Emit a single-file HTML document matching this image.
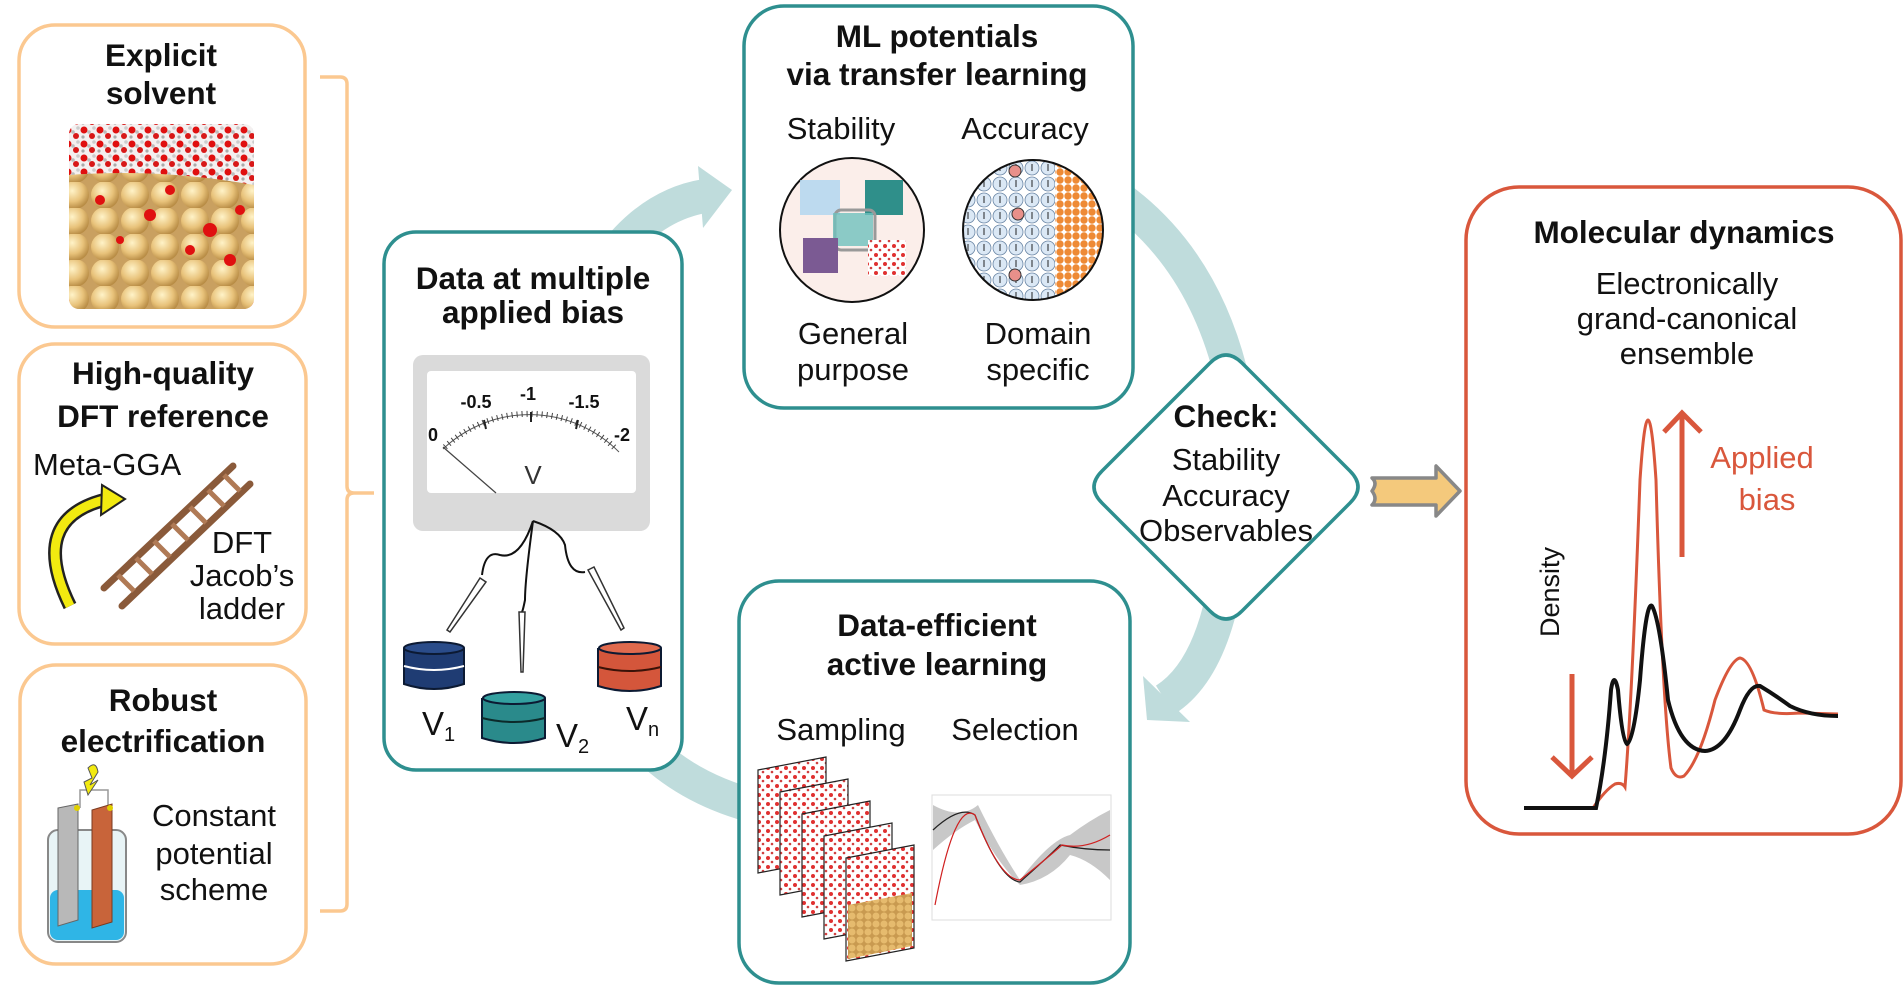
<!DOCTYPE html>
<html><head><meta charset="utf-8"><style>
html,body{margin:0;padding:0;background:#fff;width:1904px;height:985px;overflow:hidden}
svg{display:block}
text{font-family:"Liberation Sans",sans-serif;fill:#111}
.t{font-weight:bold;font-size:31.5px;text-anchor:middle}
.r{font-size:31px;text-anchor:middle}
</style></head><body>
<svg width="1904" height="985" viewBox="0 0 1904 985" xmlns="http://www.w3.org/2000/svg">
<defs>
<radialGradient id="sph" cx="40%" cy="35%" r="65%"><stop offset="0" stop-color="#fff3c8"/><stop offset="0.6" stop-color="#e8c27a"/><stop offset="1" stop-color="#b88c45"/></radialGradient>
<pattern id="gold" x="0" y="0" width="30" height="26" patternUnits="userSpaceOnUse"><rect width="30" height="26" fill="#c9a060"/><circle cx="15" cy="13" r="14" fill="url(#sph)"/></pattern>
<pattern id="water" x="0" y="0" width="16" height="14" patternUnits="userSpaceOnUse"><rect width="16" height="14" fill="#f4f0f0"/><circle cx="4" cy="4" r="3.5" fill="#e01010"/><circle cx="12" cy="10" r="3" fill="#d81818"/><circle cx="9" cy="6" r="1.8" fill="#bbb"/><circle cx="14" cy="2" r="1.8" fill="#ccc"/><circle cx="3" cy="11" r="1.6" fill="#aaa"/></pattern>
<pattern id="smallgold" width="8" height="8" patternUnits="userSpaceOnUse"><rect width="8" height="8" fill="#c99a50"/><circle cx="4" cy="4" r="3.5" fill="#e6bb6e"/></pattern>
<pattern id="reddots" width="9" height="9" patternUnits="userSpaceOnUse"><rect width="9" height="9" fill="#fff"/><circle cx="3" cy="3" r="2" fill="#e03030"/><circle cx="7" cy="7" r="1.3" fill="#d04040"/></pattern>
<pattern id="blue" width="16" height="16" patternUnits="userSpaceOnUse"><rect width="16" height="16" fill="#fff"/><circle cx="8" cy="8" r="7" fill="#dbe8f5" stroke="#6a86a5" stroke-width="0.8"/><line x1="8" y1="4" x2="8" y2="11" stroke="#222" stroke-width="1"/></pattern>
<pattern id="orange" width="8" height="8" patternUnits="userSpaceOnUse"><rect width="8" height="8" fill="#fff"/><circle cx="4" cy="4" r="3.7" fill="#ee8a35"/></pattern>
<clipPath id="c1"><rect x="69" y="124" width="185" height="185" rx="10"/></clipPath>
<clipPath id="c2"><circle cx="1033" cy="230" r="70"/></clipPath>
</defs>

<!-- cycle arcs -->
<g fill="none" stroke="#bfdcdc" stroke-width="34">
<path d="M610,260 Q650,205 705,196"/>
<path d="M1115,195 Q1200,255 1230,370"/>
<path d="M1222,600 Q1205,675 1165,700"/>
<path d="M770,810 Q700,795 655,755"/>
</g>
<polygon points="698,166 732,190 703,228" fill="#bfdcdc"/>
<polygon points="1143,676 1147,720 1190,722" fill="#bfdcdc"/>

<!-- left boxes -->
<g fill="#fff" stroke="#fbc890" stroke-width="3.5">
<rect x="19" y="25" width="286" height="302" rx="36"/>
<rect x="19" y="344" width="287" height="300" rx="36"/>
<rect x="20" y="665" width="286" height="299" rx="36"/>
</g>
<text class="t" x="161" y="66">Explicit</text>
<text class="t" x="161" y="104">solvent</text>
<g clip-path="url(#c1)">
<rect x="69" y="124" width="185" height="185" fill="url(#water)"/>
<path d="M69,175 Q160,168 254,185 L254,309 L69,309Z" fill="url(#gold)"/>
<g fill="#e01010"><circle cx="100" cy="200" r="5"/><circle cx="150" cy="215" r="6"/><circle cx="210" cy="230" r="7"/><circle cx="240" cy="210" r="5"/><circle cx="190" cy="250" r="5"/><circle cx="120" cy="240" r="4"/><circle cx="230" cy="260" r="6"/><circle cx="170" cy="190" r="5"/></g>
</g>

<text class="t" x="163" y="384">High-quality</text>
<text class="t" x="163" y="427">DFT reference</text>
<text x="33" y="475" style="font-size:31px">Meta-GGA</text>
<path d="M70,606 Q28,520 104,500" fill="none" stroke="#222" stroke-width="14"/>
<path d="M70,606 Q28,520 104,500" fill="none" stroke="#f2ea10" stroke-width="9"/>
<polygon points="102,485 125,499 101,515" fill="#f2ea10" stroke="#222" stroke-width="2"/>
<g stroke="#8a5a3a" stroke-width="7" stroke-linecap="round">
<line x1="104" y1="588" x2="233" y2="466"/><line x1="122" y1="606" x2="250" y2="484"/>
</g>
<g stroke="#b07a55" stroke-width="5">
<line x1="118" y1="575" x2="134" y2="591"/><line x1="136" y1="558" x2="152" y2="574"/><line x1="154" y1="541" x2="170" y2="557"/><line x1="172" y1="524" x2="188" y2="540"/><line x1="190" y1="507" x2="206" y2="523"/><line x1="208" y1="490" x2="224" y2="506"/><line x1="224" y1="475" x2="240" y2="491"/>
</g>
<text class="r" x="242" y="553">DFT</text>
<text class="r" x="242" y="586">Jacob’s</text>
<text class="r" x="242" y="619">ladder</text>

<text class="t" x="163" y="711">Robust</text>
<text class="t" x="163" y="752">electrification</text>
<path d="M80,808 V790 H108 V808" fill="none" stroke="#999" stroke-width="1.5"/>
<path d="M88,768 Q96,760 98,772 L90,785 L98,780 L88,795 L84,782 L92,778Z" fill="#f2ea10" stroke="#555" stroke-width="1"/>
<rect x="48" y="830" width="78" height="112" rx="10" fill="#e8f4f6" stroke="#888" stroke-width="2"/>
<rect x="50" y="890" width="74" height="50" rx="8" fill="#2fb5e6"/>
<polygon points="58,808 78,804 78,920 58,926" fill="#b8b8b8" stroke="#666" stroke-width="1"/>
<polygon points="92,810 112,804 112,922 92,928" fill="#c8643a" stroke="#7a3a20" stroke-width="1"/>
<circle cx="77" cy="808" r="3" fill="#e0d000"/><circle cx="110" cy="808" r="3" fill="#e0d000"/>
<text class="r" x="214" y="826">Constant</text>
<text class="r" x="214" y="864">potential</text>
<text class="r" x="214" y="900">scheme</text>

<!-- bracket -->
<path d="M320,77 H340 Q347,77 347,84 V486 Q347,493 354,493 H374 M354,493 Q347,493 347,500 V904 Q347,911 340,911 H320" fill="none" stroke="#fbc890" stroke-width="3.5"/>

<!-- data box -->
<rect x="384" y="232" width="298" height="538" rx="32" fill="#fff" stroke="#2e8f8f" stroke-width="3.5"/>
<text class="t" x="533" y="289">Data at multiple</text>
<text class="t" x="533" y="323">applied bias</text>
<rect x="413" y="355" width="237" height="176" rx="10" fill="#dadada"/>
<rect x="427" y="371" width="209" height="122" rx="4" fill="#fff"/>
<path d="M443,449 A126,126 0 0 1 619,452" fill="none" stroke="#555" stroke-width="1"/>
<path d="M445,447 A124,124 0 0 1 617,450" fill="none" stroke="#444" stroke-width="6" stroke-dasharray="1 4"/>
<g stroke="#222" stroke-width="2"><line x1="486" y1="429" x2="484" y2="420"/><line x1="531" y1="422" x2="531" y2="412"/><line x1="576" y1="429" x2="578" y2="420"/></g>
<line x1="443" y1="447" x2="496" y2="493" stroke="#444" stroke-width="1.2"/>
<g style="font-size:18px;font-weight:bold;fill:#333" text-anchor="middle">
<text x="433" y="441">0</text><text x="476" y="408">-0.5</text><text x="528" y="400">-1</text><text x="584" y="408">-1.5</text><text x="622" y="441">-2</text>
</g>
<text x="533" y="484" style="font-size:26px;fill:#333" text-anchor="middle">V</text>
<g fill="none" stroke="#111" stroke-width="2">
<path d="M533,521 Q520,560 500,555 Q485,550 482,575"/>
<path d="M533,521 Q525,580 525,600 Q523,610 522,612"/>
<path d="M533,521 Q560,530 565,545 Q568,575 585,572"/>
</g>
<g stroke="#333" stroke-width="1.5" fill="#fff">
<polygon points="480,578 486,582 450,632 447,630"/><polygon points="519,612 525,612 523,672 521,672"/><polygon points="588,570 594,567 624,628 621,630"/>
</g>
<g stroke="#0c1a33" stroke-width="2">
<path d="M404,648 V684 Q434,694 464,684 V648" fill="#1f3c73"/><ellipse cx="434" cy="648" rx="30" ry="6" fill="#2a4c8a"/><path d="M404,666 Q434,674 464,666" fill="none" stroke="#fff"/>
<path d="M482,698 V738 Q514,748 545,738 V698" fill="#2a8a8b"/><ellipse cx="514" cy="698" rx="31" ry="6" fill="#33a0a0"/><path d="M482,718 Q514,726 545,718" fill="none" stroke="#0c2a2a"/>
<path d="M598,648 V686 Q630,696 661,686 V648" fill="#d4563b"/><ellipse cx="630" cy="648" rx="31" ry="6" fill="#e06a4e"/><path d="M598,667 Q630,675 661,667" fill="none" stroke="#3a1208"/>
</g>
<text x="422" y="735" style="font-size:33px">V<tspan style="font-size:20px" dy="6">1</tspan></text>
<text x="556" y="747" style="font-size:33px">V<tspan style="font-size:20px" dy="6">2</tspan></text>
<text x="626" y="730" style="font-size:33px">V<tspan style="font-size:20px" dy="6">n</tspan></text>

<!-- ML box -->
<rect x="744" y="6" width="389" height="402" rx="40" fill="#fff" stroke="#2e8f8f" stroke-width="3.5"/>
<text class="t" x="937" y="47">ML potentials</text>
<text class="t" x="937" y="85">via transfer learning</text>
<text class="r" x="841" y="139">Stability</text>
<text class="r" x="1025" y="139">Accuracy</text>
<circle cx="852" cy="230" r="72" fill="#fbeeea" stroke="#111" stroke-width="2"/>
<rect x="800" y="180" width="40" height="35" fill="#aed4f0" opacity="0.8"/>
<rect x="865" y="180" width="38" height="35" fill="#2f8f8a"/>
<rect x="835" y="210" width="40" height="40" fill="none" stroke="#999" stroke-width="3" rx="6"/>
<rect x="833" y="213" width="40" height="33" fill="#6fc1bd" opacity="0.8"/>
<rect x="803" y="238" width="35" height="35" fill="#7b5a93"/>
<rect x="868" y="240" width="38" height="36" fill="url(#reddots)"/>
<g clip-path="url(#c2)">
<rect x="960" y="158" width="96" height="145" fill="url(#blue)"/>
<rect x="1055" y="158" width="50" height="145" fill="url(#orange)"/>
</g>
<circle cx="1033" cy="230" r="70" fill="none" stroke="#111" stroke-width="2"/>
<g fill="#e8908a" stroke="#333"><circle cx="1015" cy="171" r="6"/><circle cx="1018" cy="214" r="6"/><circle cx="1015" cy="275" r="6"/></g>
<text class="r" x="853" y="344">General</text>
<text class="r" x="853" y="380">purpose</text>
<text class="r" x="1038" y="344">Domain</text>
<text class="r" x="1038" y="380">specific</text>

<!-- diamond -->
<path d="M1210,363 Q1226,347 1242,363 L1350,471 Q1366,487 1350,503 L1242,611 Q1226,627 1210,611 L1102,503 Q1086,487 1102,471Z" fill="#fff" stroke="#2e8f8f" stroke-width="3.5"/>
<text class="t" x="1226" y="427">Check:</text>
<text class="r" x="1226" y="470">Stability</text>
<text class="r" x="1226" y="506">Accuracy</text>
<text class="r" x="1226" y="541">Observables</text>

<!-- yellow arrow -->
<path d="M1372,478 Q1378,483 1372,491 Q1378,499 1372,505 H1436 V516 L1460,491 L1436,466 V478Z" fill="#f4c97c" stroke="#888" stroke-width="3.5" stroke-linejoin="round"/>

<!-- active learning -->
<rect x="739" y="581" width="391" height="402" rx="40" fill="#fff" stroke="#2e8f8f" stroke-width="3.5"/>
<text class="t" x="937" y="636">Data-efficient</text>
<text class="t" x="937" y="675">active learning</text>
<text class="r" x="841" y="740">Sampling</text>
<text class="r" x="1015" y="740">Selection</text>
<g stroke="#222" stroke-width="1.2">
<polygon points="758,770 826,757 826,860 758,873" fill="url(#reddots)"/>
<polygon points="780,792 848,779 848,882 780,895" fill="url(#reddots)"/>
<polygon points="802,814 870,801 870,904 802,917" fill="url(#reddots)"/>
<polygon points="824,836 892,823 892,926 824,939" fill="url(#reddots)"/>
<polygon points="846,858 914,845 914,948 846,961" fill="url(#reddots)"/>
<polygon points="848,905 912,893 912,946 848,959" fill="url(#smallgold)" stroke="none"/>
</g>
<rect x="932" y="795" width="179" height="125" fill="#fff" stroke="#ddd"/>
<path d="M933,805 Q960,820 978,805 Q1000,850 1020,880 Q1050,840 1070,835 Q1090,820 1110,810 V880 Q1090,860 1070,855 Q1050,880 1020,885 Q995,860 975,820 Q955,830 933,850Z" fill="#c8c8c8"/>
<path d="M933,830 Q960,805 975,815 Q1000,880 1020,882 Q1045,860 1060,845 Q1085,850 1110,850" fill="none" stroke="#222" stroke-width="1.2"/>
<path d="M935,905 Q955,800 975,815 Q1000,880 1020,880 Q1045,860 1062,845 Q1085,850 1110,835" fill="none" stroke="#d02020" stroke-width="1.2"/>

<!-- MD box -->
<rect x="1466" y="187" width="435" height="647" rx="53" fill="#fff" stroke="#d9573c" stroke-width="3.5"/>
<text class="t" x="1684" y="243">Molecular dynamics</text>
<text class="r" x="1687" y="294">Electronically</text>
<text class="r" x="1687" y="329">grand-canonical</text>
<text class="r" x="1687" y="364">ensemble</text>
<path d="M1524,808 H1593 Q1605,790 1615,784 Q1622,782 1625,787 Q1632,700 1640,480 Q1648,360 1656,480 Q1662,700 1671,768 Q1676,780 1684,776 Q1700,760 1715,700 Q1730,660 1740,658 Q1752,660 1764,710 Q1775,715 1800,713 L1838,714" fill="none" stroke="#d9573c" stroke-width="3"/>
<path d="M1524,808 H1596 Q1606,760 1611,690 Q1614,670 1618,690 Q1622,740 1627,744 Q1634,740 1640,680 Q1646,600 1652,606 Q1660,620 1668,700 Q1680,750 1705,751 Q1725,750 1740,710 Q1750,684 1760,686 Q1775,695 1790,706 Q1810,716 1838,716" fill="none" stroke="#111" stroke-width="4"/>
<path d="M1682,557 V413 M1664,432 L1682,413 L1701,432" fill="none" stroke="#d9573c" stroke-width="5"/>
<path d="M1572,674 V776 M1552,757 L1572,776 L1592,757" fill="none" stroke="#d9573c" stroke-width="5"/>
<text x="1762" y="468" style="font-size:31px;fill:#d9573c" text-anchor="middle">Applied</text>
<text x="1767" y="510" style="font-size:31px;fill:#d9573c" text-anchor="middle">bias</text>
<text transform="translate(1559,592) rotate(-90)" style="font-size:27px" text-anchor="middle">Density</text>
</svg>
</body></html>
